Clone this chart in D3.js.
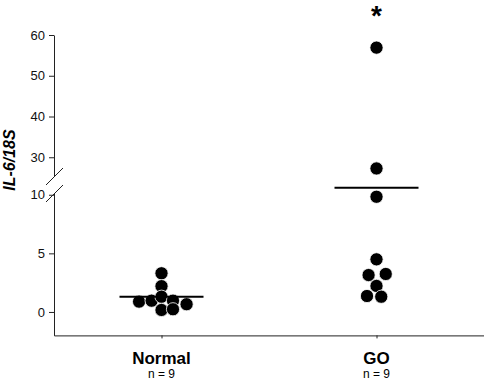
<!DOCTYPE html>
<html>
<head>
<meta charset="utf-8">
<script src="https://cdn.jsdelivr.net/npm/d3@7"></script>
<style>
  body { margin: 0; background: #fff; }
  text { font-family: "Liberation Sans", Arial, sans-serif; }
</style>
</head>
<body>
<div id="chart"></div>
<script>
// groups and their labels
var groups = ["Normal", "GO"];
var groupN = ["n = 9", "n = 9"];

// IL-6/18S values
var normalValues = [3.3, 2.2, 0.88, 0.96, 1.3, 0.96, 0.66, 0.17, 0.23];
var goValues = [56.9, 27.25, 9.83, 4.49, 3.15, 3.24, 2.22, 1.36, 1.3];
// horizontal scatter of each dot (in dot diameters)
var normalJitter = [0, 0, -1.7, -0.75, 0, 0.87, 1.9, 0, 0.87];
var goJitter = [0, 0, 0, 0, -0.6, 0.7, 0, -0.72, 0.36];
// drawn mean lines
var groupMeans = [1.3, 10.6];

var lowTicks = [0, 5, 10];
var highTicks = [30, 40, 50, 60];

var width = 484, height = 383;
var axisX = 54, bottomY = 335.4;
var r = 6.6;

var svg = d3.select("#chart")
  .append("svg")
    .attr("width", width)
    .attr("height", height);

// two y segments with a break between them
var yLow = d3.scaleLinear().domain([-2, 10.15]).range([bottomY, 193]);
var yHigh = d3.scaleLinear().domain([25.4, 60]).range([176, 35]);
function yPos(v) { return v > 20 ? yHigh(v) : yLow(v); }

var x = d3.scalePoint()
  .domain(groups)
  .range([axisX, width])
  .padding(0.5);

var jit = d3.scaleLinear().domain([-1, 1]).range([-2 * r, 2 * r]);

// y axis, lower part
svg.append("g")
  .attr("transform", "translate(" + axisX + ",0)")
  .style("font-size", "13px")
  .call(d3.axisLeft(yLow).tickValues(lowTicks).tickSize(5).tickSizeOuter(0).tickPadding(4))
  .call(function(g){ g.selectAll("path,line").attr("stroke", "#222"); g.selectAll("text").attr("fill", "#111"); });

// y axis, upper part
svg.append("g")
  .attr("transform", "translate(" + axisX + ",0)")
  .style("font-size", "13px")
  .call(d3.axisLeft(yHigh).tickValues(highTicks).tickSize(5).tickSizeOuter(0).tickPadding(4))
  .call(function(g){ g.selectAll("path,line").attr("stroke", "#222"); g.selectAll("text").attr("fill", "#111"); });

// break marks
[[185, 168], [202, 185]].forEach(function(b) {
  svg.append("line")
    .attr("x1", axisX - 8).attr("y1", b[0])
    .attr("x2", axisX + 9).attr("y2", b[1])
    .attr("stroke", "#222")
    .attr("stroke-width", 1);
});

// x axis
svg.append("g")
  .attr("transform", "translate(0," + bottomY + ")")
  .call(d3.axisBottom(x).tickSize(3).tickSizeOuter(0).tickFormat(""))
  .call(function(g){ g.selectAll("path,line").attr("stroke", "#222"); });

// group labels
svg.selectAll("groupLabel")
  .data(groups)
  .enter()
  .append("text")
    .attr("x", function(d) { return x(d); })
    .attr("y", 364)
    .attr("text-anchor", "middle")
    .style("font-size", "17px")
    .style("font-weight", "bold")
    .text(function(d) { return d; });

svg.selectAll("nLabel")
  .data(groups)
  .enter()
  .append("text")
    .attr("x", function(d) { return x(d); })
    .attr("y", 378)
    .attr("text-anchor", "middle")
    .style("font-size", "12px")
    .text(function(d, i) { return groupN[i]; });

// y label
svg.append("text")
  .attr("transform", "translate(15,160) rotate(-90)")
  .attr("text-anchor", "middle")
  .style("font-size", "16px")
  .style("font-weight", "bold")
  .style("font-style", "italic")
  .text("IL-6/18S");

// dots
var dotData = [];
normalValues.forEach(function(v, i) { dotData.push({group: "Normal", value: v, j: normalJitter[i]}); });
goValues.forEach(function(v, i) { dotData.push({group: "GO", value: v, j: goJitter[i]}); });

svg.selectAll("dots")
  .data(dotData)
  .enter()
  .append("circle")
    .attr("cx", function(d) { return x(d.group) + jit(d.j); })
    .attr("cy", function(d) { return yPos(d.value); })
    .attr("r", r)
    .attr("fill", "#000")
    .attr("stroke", "#fff")
    .attr("stroke-width", 0.8);

// mean lines
svg.selectAll("means")
  .data(groups)
  .enter()
  .append("line")
    .attr("x1", function(d) { return x(d) - 42; })
    .attr("x2", function(d) { return x(d) + 42; })
    .attr("y1", function(d, i) { return yPos(groupMeans[i]); })
    .attr("y2", function(d, i) { return yPos(groupMeans[i]); })
    .attr("stroke", "#000")
    .attr("stroke-width", 2);

// significance mark
svg.append("text")
  .attr("x", x("GO"))
  .attr("y", 25)
  .attr("text-anchor", "middle")
  .style("font-size", "28px")
  .style("font-weight", "bold")
  .text("*");
</script>
</body>
</html>
